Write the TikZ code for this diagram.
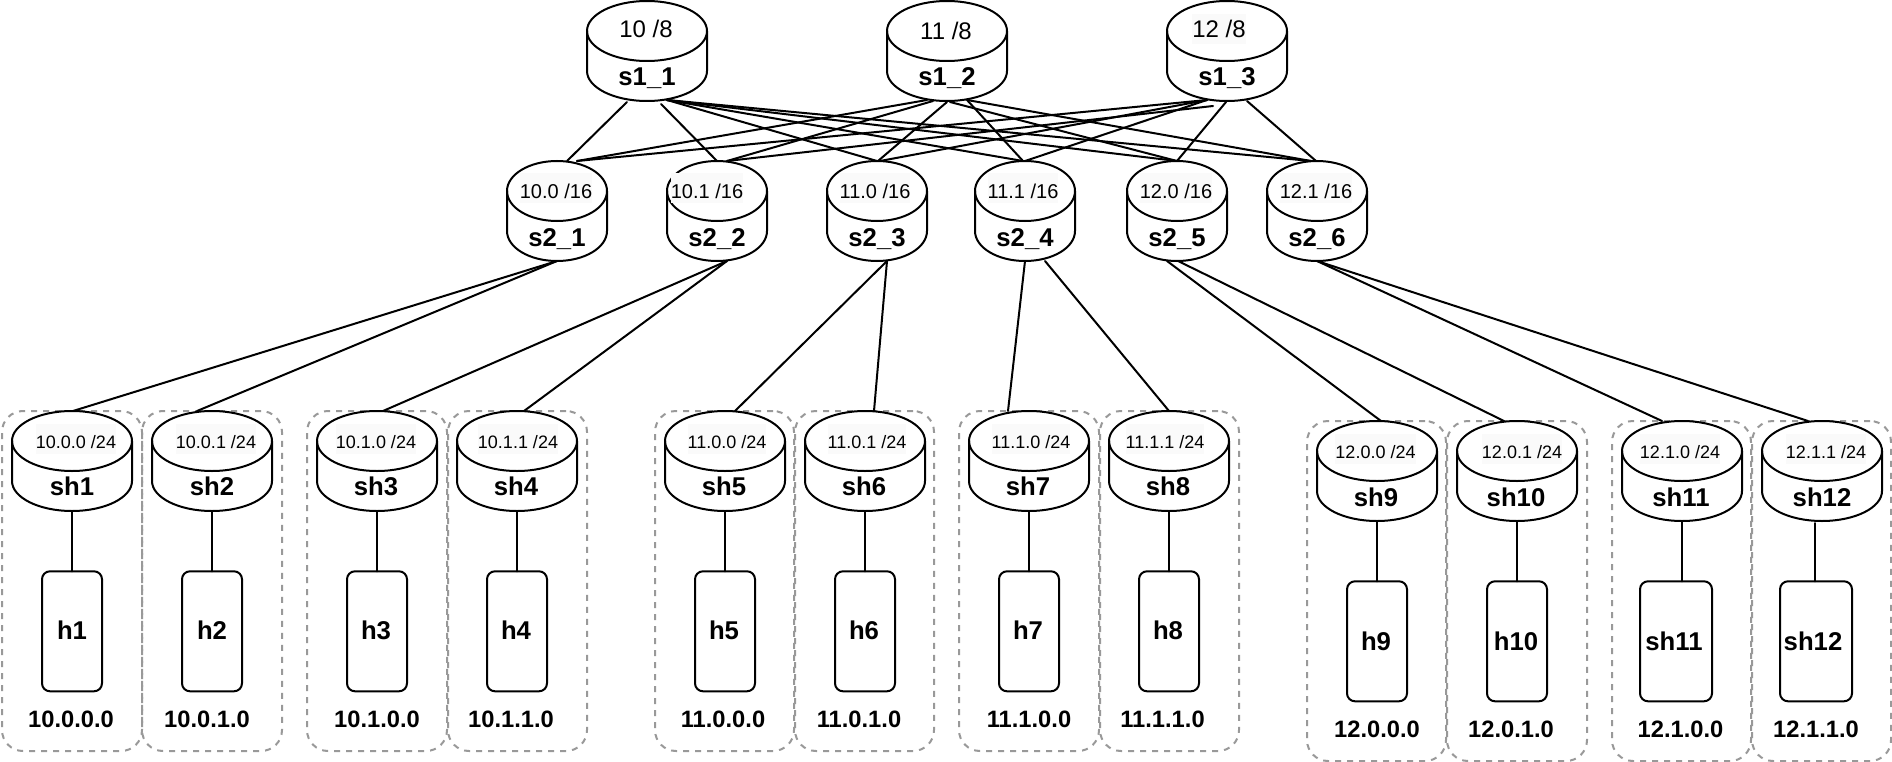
\documentclass[tikz,border=0pt]{standalone}
\usepackage{fontspec}
\setmainfont{Liberation Sans}
\definecolor{labelbg}{HTML}{FAFAFA}
\definecolor{groupgrey}{HTML}{999999}
\tikzset{
  x=1pt,y=-1pt,
  ln/.style={line width=2pt,black},
  netlink/.style={ln,line cap=round},
  cylbox/.style={inner sep=0pt,outer sep=0pt,minimum height=100pt,rectangle},
  hostbox/.style={ln,draw,fill=white,rectangle,rounded corners=8pt,inner sep=0pt,outer sep=0pt,minimum width=60pt,minimum height=120pt},
  groupbox/.style={draw=groupgrey,line width=2pt,dash pattern=on 6pt off 6pt,rectangle,rounded corners=21pt,inner sep=0pt,outer sep=0pt,minimum height=340pt},
  nametext/.style={font=\fontsize{25.7}{30}\selectfont\bfseries,anchor=base,inner sep=0pt},
  iptext/.style={font=\fontsize{23.7}{28}\selectfont\bfseries,anchor=base,inner sep=0pt},
  nettop/.style={font=\fontsize{24}{28}\selectfont,anchor=base,inner sep=0pt},
  nettopbg/.style={nettop,fill=labelbg,text height=24pt,text depth=6pt},
  netmid/.style={font=\fontsize{20}{24}\selectfont,anchor=base,inner sep=0pt,fill=labelbg,text height=25pt,text depth=5pt},
  netlow/.style={font=\fontsize{18}{22}\selectfont,anchor=base,inner sep=0pt,fill=labelbg,text height=24pt,text depth=6pt},
}
% name, centre x, top y, width
\newcommand{\cyl}[4]{%
  \node[cylbox,minimum width=#4pt,anchor=north] (#1) at (#2,#3) {};
  \draw[ln,fill=white] (#2-#4/2,#3+30) -- (#2-#4/2,#3+70)
     arc[start angle=180,end angle=360,x radius=#4/2*1pt,y radius=30pt]
     -- (#2+#4/2,#3+30)
     arc[start angle=0,end angle=180,x radius=#4/2*1pt,y radius=30pt] -- cycle;
  \draw[ln] (#2-#4/2,#3+30) arc[start angle=180,end angle=360,x radius=#4/2*1pt,y radius=30pt];
}
% from node, dx, dy, to node, dx, dy
\newcommand{\lk}[6]{\draw[netlink] ([shift={(#2,#3)}]#1.center) -- ([shift={(#5,#6)}]#4.center);}
\begin{document}
\begin{tikzpicture}
\useasboundingbox (0,0) rectangle (1892,762);
\fill[white] (0,0) rectangle (1892,762);

% dashed groups
\foreach \nm/\xa/\xb/\yt in {
  g1/2/142/411,g2/142/282/411,g3/307/447/411,g4/448/587/411,
  g5/655/794/411,g6/795/934/411,g7/959/1099/411,g8/1100/1239/411,
  g9/1307/1446/421,g10/1447/1587/421,g11/1612/1751/421,g12/1752/1891/421}{
  \node[groupbox,minimum width=\xb pt-\xa pt,anchor=north west] (\nm) at (\xa,\yt) {};
}

% cylinders
\cyl{s11}{647}{1}{120}
\cyl{s12}{947}{1}{120}
\cyl{s13}{1227}{1}{120}
\cyl{s21}{557}{161}{100}
\cyl{s22}{717}{161}{100}
\cyl{s23}{877}{161}{100}
\cyl{s24}{1025}{161}{100}
\cyl{s25}{1177}{161}{100}
\cyl{s26}{1317}{161}{100}
\cyl{sh1}{72}{411}{120}
\cyl{sh2}{212}{411}{120}
\cyl{sh3}{377}{411}{120}
\cyl{sh4}{517}{411}{120}
\cyl{sh5}{725}{411}{120}
\cyl{sh6}{865}{411}{120}
\cyl{sh7}{1029}{411}{120}
\cyl{sh8}{1169}{411}{120}
\cyl{sh9}{1377}{421}{120}
\cyl{sh10}{1517}{421}{120}
\cyl{sh11}{1682}{421}{120}
\cyl{sh12}{1822}{421}{120}

% hosts
\node[hostbox] (h1) at (72,631.3) {};
\node[hostbox] (h2) at (212,631.3) {};
\node[hostbox] (h3) at (377,631.3) {};
\node[hostbox] (h4) at (517,631.3) {};
\node[hostbox] (h5) at (725,631.3) {};
\node[hostbox] (h6) at (865,631.3) {};
\node[hostbox] (h7) at (1029,631.3) {};
\node[hostbox] (h8) at (1169,631.3) {};
\node[hostbox] (h9) at (1377,641.3) {};
\node[hostbox] (h10) at (1517,641.3) {};
\node[hostbox,minimum width=72pt] (h11) at (1676,641.3) {};
\node[hostbox,minimum width=72pt] (h12) at (1816,641.3) {};

% core links
\lk{s11}{-20}{51}{s21}{10}{-50}
\lk{s11}{14}{53}{s22}{0}{-50}
\lk{s11}{20}{49}{s23}{0}{-50}
\lk{s11}{20}{49}{s24}{-2}{-50}
\lk{s11}{20}{49}{s25}{0}{-50}
\lk{s11}{20}{49}{s26}{-6}{-50}
\lk{s12}{-20}{49}{s21}{20}{-50}
\lk{s12}{-14}{50}{s22}{10}{-50}
\lk{s12}{0}{51}{s23}{1}{-50}
\lk{s12}{20}{49}{s24}{-2}{-50}
\lk{s12}{3}{51}{s25}{0}{-50}
\lk{s12}{20}{49}{s26}{-6}{-50}
\lk{s13}{-20}{49}{s21}{20}{-50}
\lk{s13}{-14}{55}{s22}{10}{-50}
\lk{s13}{-20}{49}{s23}{3}{-50}
\lk{s13}{-20}{49}{s24}{0}{-50}
\lk{s13}{-1}{51}{s25}{0}{-50}
\lk{s13}{20}{50}{s26}{-1}{-50}

% aggregation links
\lk{s21}{0}{50}{sh1}{1}{-50}
\lk{s21}{0}{50}{sh2}{-15}{-50}
\lk{s22}{10}{50}{sh3}{6}{-50}
\lk{s22}{10}{50}{sh4}{7}{-50}
\lk{s23}{10}{50}{sh5}{10}{-50}
\lk{s23}{10}{50}{sh6}{9}{-50}
\lk{s24}{0}{50}{sh7}{-21}{-50}
\lk{s24}{20}{50}{sh8}{0}{-50}
\lk{s25}{-10}{50}{sh9}{4}{-50}
\lk{s25}{1}{50}{sh10}{-13}{-50}
\lk{s26}{0}{50}{sh11}{-20}{-50}
\lk{s26}{0}{50}{sh12}{-14}{-50}

% host links
\draw[netlink] (sh1.south) -- (h1.north);
\draw[netlink] (sh2.south) -- (h2.north);
\draw[netlink] (sh3.south) -- (h3.north);
\draw[netlink] (sh4.south) -- (h4.north);
\draw[netlink] (sh5.south) -- (h5.north);
\draw[netlink] (sh6.south) -- (h6.north);
\draw[netlink] (sh7.south) -- (h7.north);
\draw[netlink] (sh8.south) -- (h8.north);
\draw[netlink] (sh9.south) -- (h9.north);
\draw[netlink] (sh10.south) -- (h10.north);
\draw[netlink] (sh11.south) -- ([xshift=6pt]h11.north);
\draw[netlink] ([shift={(-7,2)}]sh12.south) -- ([xshift=-1pt]h12.north);

% subnet labels
\node[nettop] (t1) at (646,37.7) {10 /8};
\node[nettop] (t2) at (946,40) {11 /8};
\node[nettopbg] (t3) at (1219,37.7) {12 /8};
\node[netmid] (m1) at (556,198.3) {10.0 /16};
\node[netmid] (m2) at (707,198.3) {10.1 /16};
\node[netmid] (m3) at (875,198.3) {11.0 /16};
\node[netmid] (m4) at (1023,198.3) {11.1 /16};
\node[netmid] (m5) at (1176,198.3) {12.0 /16};
\node[netmid] (m6) at (1316,198.3) {12.1 /16};
\node[netlow] (l1) at (76,448) {10.0.0 /24};
\node[netlow] (l2) at (216,448) {10.0.1 /24};
\node[netlow] (l3) at (376,448) {10.1.0 /24};
\node[netlow] (l4) at (518,448) {10.1.1 /24};
\node[netlow] (l5) at (727,448) {11.0.0 /24};
\node[netlow] (l6) at (867,448) {11.0.1 /24};
\node[netlow] (l7) at (1031,448) {11.1.0 /24};
\node[netlow] (l8) at (1165,448) {11.1.1 /24};
\node[netlow] (l9) at (1375.5,458) {12.0.0 /24};
\node[netlow] (l10) at (1522,458) {12.0.1 /24};
\node[netlow] (l11) at (1680,458) {12.1.0 /24};
\node[netlow] (l12) at (1826,458) {12.1.1 /24};

% switch names
\node[nametext] (n11) at (647,86) {s1\_1};
\node[nametext] (n12) at (947,86) {s1\_2};
\node[nametext] (n13) at (1227,86) {s1\_3};
\node[nametext] (n21) at (557,246) {s2\_1};
\node[nametext] (n22) at (717,246) {s2\_2};
\node[nametext] (n23) at (877,246) {s2\_3};
\node[nametext] (n24) at (1025,246) {s2\_4};
\node[nametext] (n25) at (1177,246) {s2\_5};
\node[nametext] (n26) at (1317,246) {s2\_6};
\node[nametext] (ns1) at (72,495.7) {sh1};
\node[nametext] (ns2) at (212,495.7) {sh2};
\node[nametext] (ns3) at (376,495.7) {sh3};
\node[nametext] (ns4) at (516,495.7) {sh4};
\node[nametext] (ns5) at (724,495.7) {sh5};
\node[nametext] (ns6) at (864,495.7) {sh6};
\node[nametext] (ns7) at (1028,495.7) {sh7};
\node[nametext] (ns8) at (1168,495.7) {sh8};
\node[nametext] (ns9) at (1376,506) {sh9};
\node[nametext] (ns10) at (1516,506) {sh10};
\node[nametext] (ns11) at (1681,506) {sh11};
\node[nametext] (ns12) at (1822,506) {sh12};

% host names
\node[nametext] (nh1) at (72,639.3) {h1};
\node[nametext] (nh2) at (212,639.3) {h2};
\node[nametext] (nh3) at (376,639.3) {h3};
\node[nametext] (nh4) at (516,639.3) {h4};
\node[nametext] (nh5) at (724,639.3) {h5};
\node[nametext] (nh6) at (864,639.3) {h6};
\node[nametext] (nh7) at (1028,639.3) {h7};
\node[nametext] (nh8) at (1168,639.3) {h8};
\node[nametext] (nh9) at (1376,650) {h9};
\node[nametext] (nh10) at (1516,650) {h10};
\node[nametext] (nh11) at (1674,650) {sh11};
\node[nametext] (nh12) at (1813,650) {sh12};

% addresses
\node[iptext] (a1) at (71,727.5) {10.0.0.0};
\node[iptext] (a2) at (207,727.5) {10.0.1.0};
\node[iptext] (a3) at (377,727.5) {10.1.0.0};
\node[iptext] (a4) at (511,727.5) {10.1.1.0};
\node[iptext] (a5) at (723,727.5) {11.0.0.0};
\node[iptext] (a6) at (859,727.5) {11.0.1.0};
\node[iptext] (a7) at (1029,727.5) {11.1.0.0};
\node[iptext] (a8) at (1162.5,727.5) {11.1.1.0};
\node[iptext] (a9) at (1377,737) {12.0.0.0};
\node[iptext] (a10) at (1511,737) {12.0.1.0};
\node[iptext] (a11) at (1680.5,737) {12.1.0.0};
\node[iptext] (a12) at (1816,737) {12.1.1.0};
\end{tikzpicture}
\end{document}
